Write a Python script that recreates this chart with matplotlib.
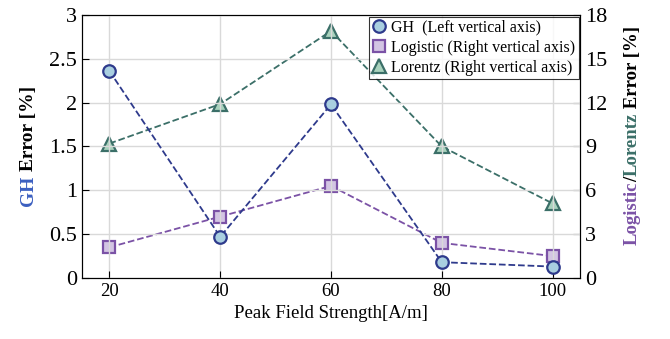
import matplotlib.pyplot as plt

plt.rcParams['font.family'] = ['Liberation Serif', 'DejaVu Serif']

# Donnees
field = [20, 40, 60, 80, 100]
gh_err = [2.36, 0.47, 1.98, 0.18, 0.13]
logistic_err = [2.1, 4.2, 6.3, 2.4, 1.5]
lorentz_err = [9.2, 11.9, 16.9, 9.0, 5.1]

fig = plt.figure(figsize=(6.7, 3.39), dpi=100)
ax = fig.add_axes([0.122, 0.18, 0.744, 0.776])
ax2 = ax.twinx()

l1, = ax.plot(field, gh_err, '--o', color='#2e3a8c', mfc='#a9cfe0', mec='#2e3a8c',
              ms=9, mew=1.6, lw=1.3, label='GH  (Left vertical axis)')
l2, = ax2.plot(field, logistic_err, '--s', color='#7b52a6', mfc='#d3c5e3', mec='#7b52a6',
               ms=8, mew=1.6, lw=1.3, label='Logistic (Right vertical axis)')
l3, = ax2.plot(field, lorentz_err, '--^', color='#3b6f68', mfc='#a9d2bd', mec='#3b6f68',
               ms=10, mew=1.6, lw=1.3, label='Lorentz (Right vertical axis)')

ax.set_xlim(15, 105)
ax.set_ylim(0, 3)
ax2.set_ylim(0, 18)
ax.set_xticks(field)
ax.set_yticks([0, 0.5, 1, 1.5, 2, 2.5, 3])
ax.set_yticklabels(['0', '0.5', '1', '1.5', '2', '2.5', '3'])
ax2.set_yticks([0, 3, 6, 9, 12, 15, 18])
ax.grid(True, color='#d9d9d9', lw=1)
ax.set_axisbelow(True)
ax.tick_params(direction='in', labelsize=16, length=5)
ax2.tick_params(direction='in', labelsize=16, length=5)
ax.tick_params(axis='x', labelsize=13.5)
ax.set_xlabel('Peak Field Strength[A/m]', fontsize=13.5)

# lignes au-dessus
ax.set_zorder(ax2.get_zorder() + 1)
ax.patch.set_visible(False)

# etiquettes verticales en plusieurs couleurs
fig.canvas.draw()
renderer = fig.canvas.get_renderer()

def vlabel(parts, x, ycenter, size=14):
    texts = []
    total = 0
    for t, c in parts:
        tx = fig.text(x, 0, t, color=c, fontsize=size, fontweight='bold',
                      rotation=90, ha='center', va='bottom')
        h = tx.get_window_extent(renderer).height / fig.bbox.height
        texts.append((tx, h))
        total += h
    y = ycenter - total / 2
    for tx, h in texts:
        tx.set_y(y)
        y += h

vlabel([('GH', '#3b5fc0'), (' Error [%]', 'black')], 0.042, 0.57)
vlabel([('Logistic', '#7b52a6'), ('/', 'black'), ('Lorentz', '#3b6f68'),
        (' Error [%]', 'black')], 0.944, 0.6, size=13.5)

leg = ax.legend(handles=[l1, l2, l3], loc='upper right', fontsize=11.5, frameon=True,
                fancybox=False, edgecolor='black', handlelength=0.8, handletextpad=0.4,
                borderpad=0.2, labelspacing=0.25, borderaxespad=0.1)
leg.get_frame().set_linewidth(0.8)
for h in leg.legend_handles:
    h.set_linestyle('none')

fig.savefig('out.png', dpi=100)
